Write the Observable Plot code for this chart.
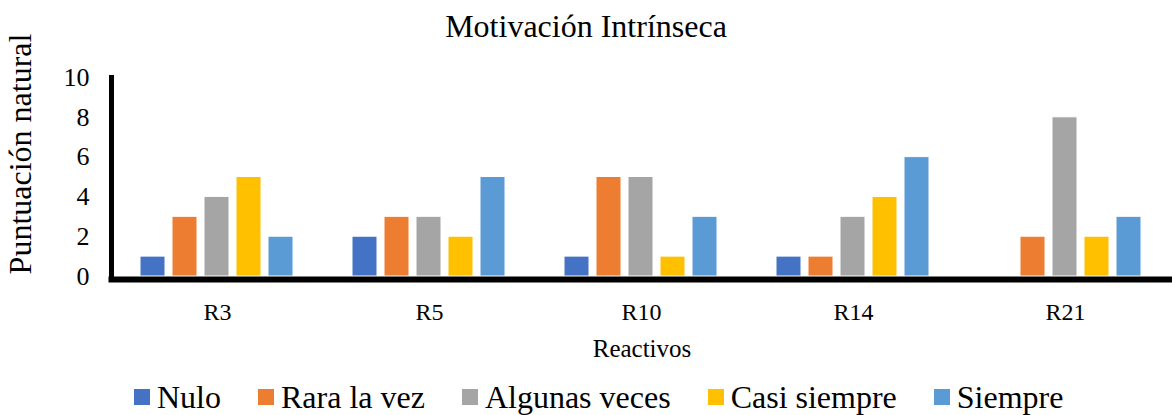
<!DOCTYPE html>
<html>
<head>
<meta charset="utf-8">
<script src="https://cdn.jsdelivr.net/npm/d3@7"></script>
<script src="https://cdn.jsdelivr.net/npm/@observablehq/plot@0.6"></script>
<style>
  html, body { margin: 0; padding: 0; background: #fff; }
  #wrap { position: relative; width: 1172px; height: 415px; overflow: hidden; font-family: 'Liberation Serif', 'Times New Roman', serif; color: #000; }
  #chart { position: absolute; left: 0; top: 0; }
  .abs { position: absolute; white-space: nowrap; }
  #title { left: 0; width: 1172px; top: 10px; text-align: center; font-size: 32px; line-height: 32px; }
  #ylabel { left: 20px; top: 154px; font-size: 32px; line-height: 32px; transform: translate(-50%, -50%) rotate(-90deg); }
  #xlabel { left: 642px; top: 336px; font-size: 25px; line-height: 25px; transform: translateX(-50%); }
  #legend { left: 134px; top: 381px; display: flex; align-items: center; font-size: 32px; line-height: 32px; }
  .item { display: flex; align-items: center; margin-right: 37px; }
  .sw { width: 16px; height: 16px; margin-right: 7px; }
</style>
</head>
<body>
<div id="wrap">
  <div id="chart"></div>
  <div id="title" class="abs">Motivación Intrínseca</div>
  <div id="ylabel" class="abs">Puntuación natural</div>
  <div id="xlabel" class="abs">Reactivos</div>
  <div id="legend" class="abs"></div>
</div>
<script>
const categories = ["R3", "R5", "R10", "R14", "R21"];
const seriesNames = ["Nulo", "Rara la vez", "Algunas veces", "Casi siempre", "Siempre"];
const nulo = [1, 2, 1, 1, 0];
const raraLaVez = [3, 3, 5, 1, 2];
const algunasVeces = [4, 3, 5, 3, 8];
const casiSiempre = [5, 2, 1, 4, 2];
const siempre = [2, 5, 3, 6, 3];
const yTicks = [0, 2, 4, 6, 8, 10];
const colors = ["#4472C4", "#ED7D31", "#A5A5A5", "#FFC000", "#5B9BD5"];

const seriesValues = [nulo, raraLaVez, algunasVeces, casiSiempre, siempre];
const data = [];
categories.forEach((cat, i) => {
  seriesNames.forEach((s, j) => {
    data.push({ cat, series: s, value: seriesValues[j][i] });
  });
});

const legend = document.getElementById("legend");
seriesNames.forEach((s, j) => {
  const item = document.createElement("div");
  item.className = "item";
  if (j === seriesNames.length - 1) item.style.marginRight = "0";
  const sw = document.createElement("span");
  sw.className = "sw";
  sw.style.background = colors[j];
  const t = document.createElement("span");
  t.textContent = s;
  item.appendChild(sw);
  item.appendChild(t);
  legend.appendChild(item);
});

const chart = Plot.plot({
  width: 1172,
  height: 415,
  marginLeft: 109,
  marginRight: 0,
  marginTop: 77,
  marginBottom: 139,
  style: { fontFamily: "Liberation Serif, Times New Roman, serif", color: "#000", background: "transparent" },
  fx: { domain: categories, padding: 0, label: null },
  x: { domain: seriesNames, paddingInner: 0.212, paddingOuter: 0.827, axis: null },
  y: { domain: [0, 10], label: null },
  color: { domain: seriesNames, range: colors },
  marks: [
    Plot.axisY({ ticks: yTicks, tickSize: 0, tickPadding: 22, fontSize: 26, label: null }),
    Plot.axisFx({ anchor: "bottom", tickSize: 0, tickPadding: 26, fontSize: 24, label: null }),
    Plot.barY(data, { fx: "cat", x: "series", y: "value", fill: "series", stroke: "white", strokeWidth: 1 }),
    Plot.frame({ anchor: "bottom", facet: "super", stroke: "#000", strokeWidth: 6, dy: 3 }),
    Plot.frame({ anchor: "left", facet: "super", stroke: "#000", strokeWidth: 5 })
  ]
});
document.getElementById("chart").appendChild(chart);
</script>
</body>
</html>
